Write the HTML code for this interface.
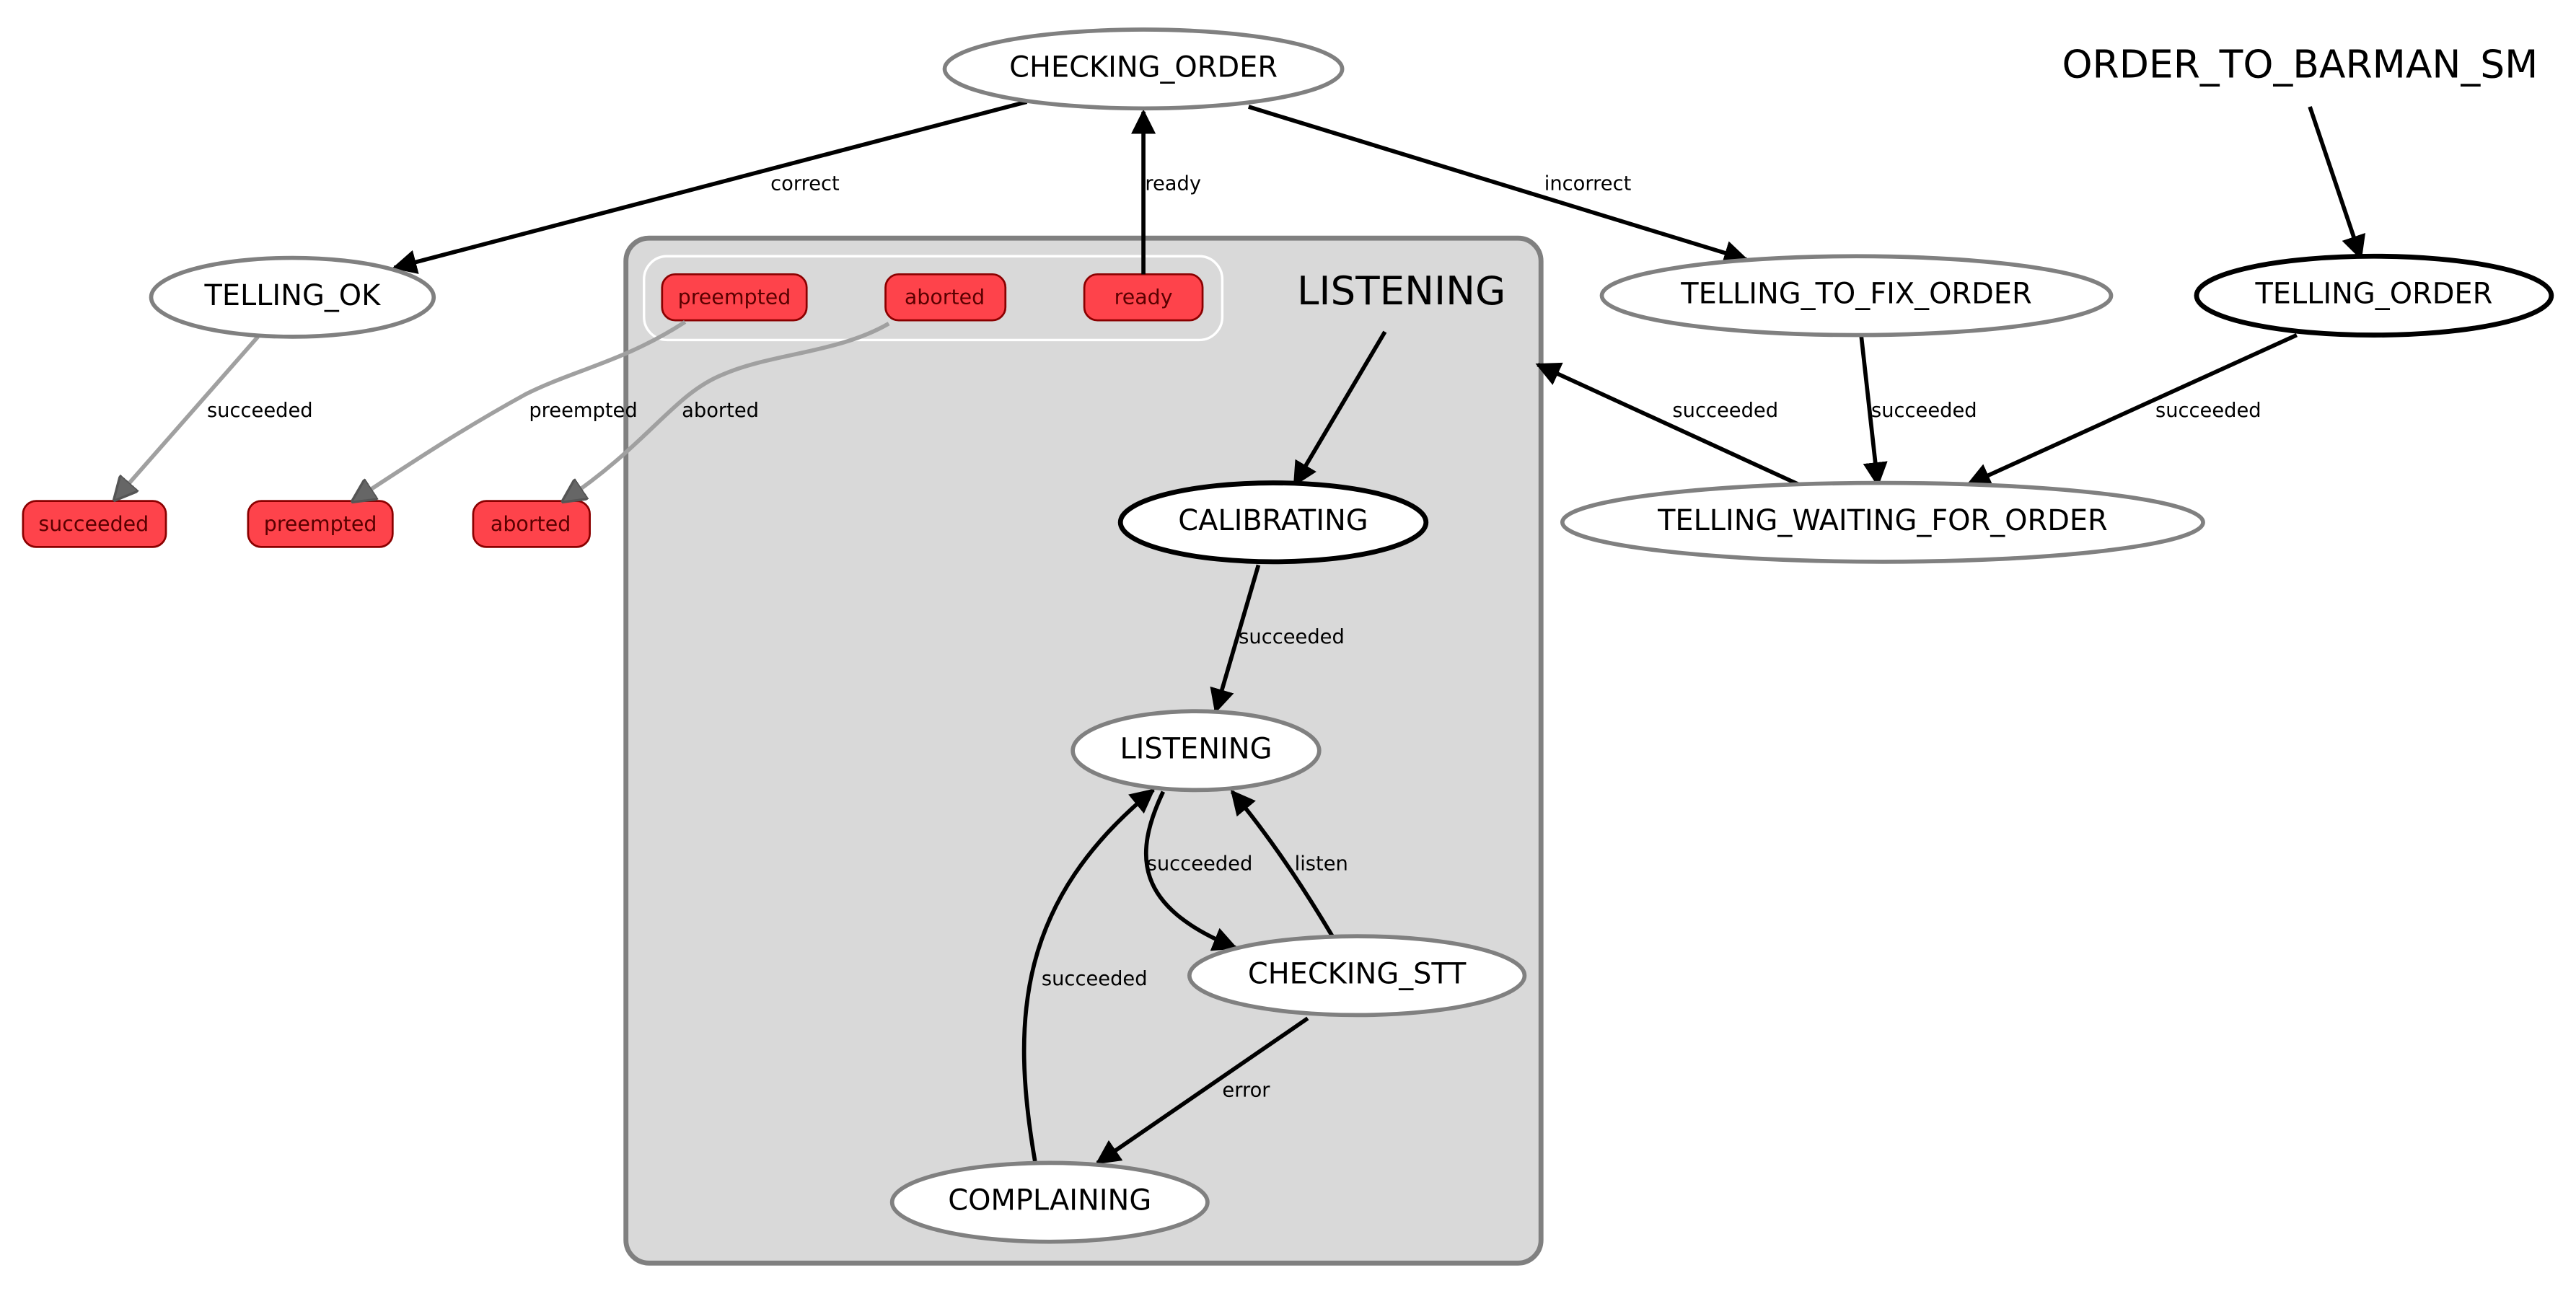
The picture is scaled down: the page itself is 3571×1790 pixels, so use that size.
<!DOCTYPE html>
<html><head><meta charset="utf-8"><style>
html,body{margin:0;padding:0;background:#fff;}
svg{display:block;}
text{font-family:"DejaVu Sans","Liberation Sans",sans-serif;fill:#000;}
.n{font-size:17.5px;text-anchor:middle;dominant-baseline:central;}
.e{font-size:12px;dominant-baseline:central;}
.r{font-size:12.5px;text-anchor:middle;dominant-baseline:central;fill:#5a0000;}
</style></head><body>
<svg width="3571" height="1790" viewBox="0 0 1568 786" preserveAspectRatio="none" xmlns="http://www.w3.org/2000/svg">
<defs>
<marker id="ab" viewBox="0 0 10 10" refX="9" refY="5" markerWidth="6" markerHeight="6" orient="auto" markerUnits="strokeWidth"><path d="M0,0 L10,5 L0,10 z" fill="#000"/></marker>
<marker id="ag" viewBox="0 0 10 10" refX="9" refY="5" markerWidth="6" markerHeight="6" orient="auto" markerUnits="strokeWidth"><path d="M0,0 L10,5 L0,10 z" fill="#666" stroke="#555"/></marker>
</defs>
<rect width="1568" height="786" fill="#fff"/>
<rect x="381" y="145" width="557" height="624" rx="14" fill="#d9d9d9" stroke="#808080" stroke-width="3"/>
<rect x="392" y="156" width="352" height="51" rx="14" fill="none" stroke="#fff" stroke-width="1.5"/>
<text x="853" y="177" style="font-size:24px;text-anchor:middle;dominant-baseline:central">LISTENING</text>
<g fill="#fe434b" stroke="#8b0000" stroke-width="1.2">
<rect x="403" y="167" width="88" height="28" rx="8"/>
<rect x="539" y="167" width="73" height="28" rx="8"/>
<rect x="660" y="167" width="72" height="28" rx="8"/>
<rect x="14" y="305" width="87" height="28" rx="8"/>
<rect x="151" y="305" width="88" height="28" rx="8"/>
<rect x="288" y="305" width="71" height="28" rx="8"/>
</g>
<text class="r" x="447" y="181">preempted</text>
<text class="r" x="575" y="181">aborted</text>
<text class="r" x="696" y="181">ready</text>
<text class="r" x="57" y="319">succeeded</text>
<text class="r" x="195" y="319">preempted</text>
<text class="r" x="323" y="319">aborted</text>
<g fill="none" stroke="#000" stroke-width="2.5" marker-end="url(#ab)">
<path d="M625,62 L240,163"/>
<path d="M696,167 L696,68"/>
<path d="M760,65 L1063,158"/>
<path d="M1406,65 L1437,157"/>
<path d="M843,202 L788,295"/>
<path d="M1133,205 L1143,295"/>
<path d="M1398,204 L1198,295"/>
<path d="M1095,295 L936,222"/>
<path d="M766,344 L740,433"/>
<path d="M708,482 C690,520 690,552 752,577"/>
<path d="M811,570 C795,543 775,512 750,482"/>
<path d="M796,620 L668,708"/>
<path d="M630,707 C615,620 620,548 702,481"/>
</g>
<g fill="none" stroke="#a0a0a0" stroke-width="2.5" marker-end="url(#ag)">
<path d="M157,205 L70,304"/>
<path d="M417,196 C380,220 350,225 320,240 C280,262 250,282 215,305"/>
<path d="M541,197 C510,215 470,215 440,228 C410,240 395,270 343,305"/>
</g>
<text class="e" x="469" y="112">correct</text>
<text class="e" x="697" y="112">ready</text>
<text class="e" x="940" y="112">incorrect</text>
<text class="e" x="126" y="250">succeeded</text>
<text class="e" x="322" y="250">preempted</text>
<text class="e" x="415" y="250">aborted</text>
<text class="e" x="1018" y="250">succeeded</text>
<text class="e" x="1139" y="250">succeeded</text>
<text class="e" x="1312" y="250">succeeded</text>
<text class="e" x="754" y="388">succeeded</text>
<text class="e" x="698" y="526">succeeded</text>
<text class="e" x="788" y="526">listen</text>
<text class="e" x="634" y="596">succeeded</text>
<text class="e" x="744" y="664">error</text>
<g fill="#fff" stroke="#808080" stroke-width="2.5">
<ellipse cx="696" cy="42" rx="121" ry="24"/>
<ellipse cx="178" cy="181" rx="86" ry="24"/>
<ellipse cx="1130" cy="180" rx="155" ry="24"/>
<ellipse cx="1146" cy="318" rx="195" ry="24"/>
<ellipse cx="728" cy="457" rx="75" ry="24"/>
<ellipse cx="826" cy="594" rx="102" ry="24"/>
<ellipse cx="639" cy="732" rx="96" ry="24"/>
</g>
<g fill="#fff" stroke="#000" stroke-width="3">
<ellipse cx="1445" cy="180" rx="108" ry="24"/>
<ellipse cx="775" cy="318" rx="93" ry="24"/>
</g>
<text class="n" x="696" y="41">CHECKING_ORDER</text>
<text class="n" x="178" y="180">TELLING_OK</text>
<text class="n" x="1130" y="179">TELLING_TO_FIX_ORDER</text>
<text class="n" x="1146" y="317">TELLING_WAITING_FOR_ORDER</text>
<text class="n" x="728" y="456">LISTENING</text>
<text class="n" x="826" y="593">CHECKING_STT</text>
<text class="n" x="639" y="731">COMPLAINING</text>
<text class="n" x="1445" y="179">TELLING_ORDER</text>
<text class="n" x="775" y="317">CALIBRATING</text>
<text x="1400" y="39" style="font-size:23.5px;text-anchor:middle;dominant-baseline:central">ORDER_TO_BARMAN_SM</text>
</svg>
</body></html>
